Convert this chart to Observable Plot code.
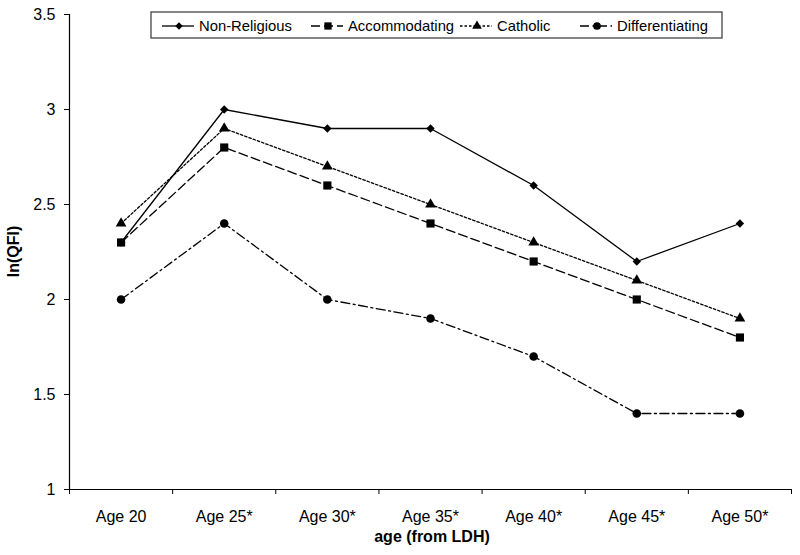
<!DOCTYPE html>
<html>
<head>
<meta charset="utf-8">
<script src="https://cdn.jsdelivr.net/npm/d3@7"></script>
<script src="https://cdn.jsdelivr.net/npm/@observablehq/plot@0.6"></script>
<style>
  html, body { margin: 0; padding: 0; background: #fff; }
  #chart { position: relative; width: 800px; height: 555px; }
  svg { font-family: Arial, "Liberation Sans", sans-serif; }
</style>
</head>
<body>
<div id="chart"></div>
<script>
const categories = ["Age 20", "Age 25*", "Age 30*", "Age 35*", "Age 40*", "Age 45*", "Age 50*"];
const seriesNames = ["Non-Religious", "Accommodating", "Catholic", "Differentiating"];
const nonReligious   = [2.3, 3.0, 2.9, 2.9, 2.6, 2.2, 2.4];
const accommodating  = [2.3, 2.8, 2.6, 2.4, 2.2, 2.0, 1.8];
const catholic       = [2.4, 2.9, 2.7, 2.5, 2.3, 2.1, 1.9];
const differentiating= [2.0, 2.4, 2.0, 1.9, 1.7, 1.4, 1.4];
const yTicks = [1, 1.5, 2, 2.5, 3, 3.5];
const xTitle = "age (from LDH)";
const yTitle = "ln(QFI)";

const styles = {
  "Non-Religious":   {dash: null,          symbol: "diamond2", r: 3.8},
  "Accommodating":   {dash: "9,4",         symbol: "square",   r: 4.6},
  "Catholic":        {dash: "2.5,2",       symbol: "triangle", r: 4.0},
  "Differentiating": {dash: "9,3.5,2,3.5", symbol: "circle",   r: 4.3}
};
const valuesBy = {
  "Non-Religious": nonReligious,
  "Accommodating": accommodating,
  "Catholic": catholic,
  "Differentiating": differentiating
};
const data = seriesNames.flatMap(s => valuesBy[s].map((v, i) => ({series: s, i, pos: i + 0.5, value: v})));

const marks = [];
for (const s of seriesNames) {
  const d = data.filter(r => r.series === s);
  const st = styles[s];
  marks.push(Plot.line(d, {x: "pos", y: "value", stroke: "#000", strokeWidth: 1.3, strokeDasharray: st.dash}));
  marks.push(Plot.dot(d, {x: "pos", y: "value", symbol: () => st.symbol, r: st.r, fill: "#000", stroke: "none"}));
}

const plot = Plot.plot({
  width: 800,
  height: 555,
  marginTop: 14,
  marginBottom: 66,
  marginLeft: 69,
  marginRight: 9,
  style: {fontFamily: "Arial, 'Liberation Sans', sans-serif", fontSize: "16px", color: "#000", background: "#fff"},
  x: {domain: [0, categories.length], label: null},
  y: {domain: [1, 3.5], label: null},
  symbol: {domain: ["diamond2", "square", "triangle", "circle"], range: ["diamond2", "square", "triangle", "circle"]},
  marks: [
    Plot.ruleX([0], {stroke: "#000", strokeWidth: 1.2}),
    Plot.ruleY([1], {stroke: "#000", strokeWidth: 1.2}),
    Plot.axisY({ticks: yTicks, tickSize: 5, tickPadding: 9, tickFormat: d => String(d), fontSize: 16, label: null, stroke: "#000"}),
    Plot.axisX({ticks: d3.range(0, categories.length + 1), tickSize: 5, tickFormat: () => "", label: null, stroke: "#000"}),
    Plot.axisX({ticks: categories.map((c, i) => i + 0.5), tickSize: 0, tickPadding: 21, tickFormat: d => categories[Math.round(d - 0.5)], fontSize: 16, label: null}),
    ...marks
  ]
});

const container = document.getElementById("chart");
container.appendChild(plot);

const svg = d3.select(plot);
const xs = plot.scale("x");
const ys = plot.scale("y");
const x0 = xs.apply(0), x1 = xs.apply(categories.length);

// axis titles
svg.append("text")
  .attr("x", (x0 + x1) / 2 + 2)
  .attr("y", 542)
  .attr("text-anchor", "middle")
  .attr("font-weight", "bold")
  .attr("font-size", 16)
  .attr("fill", "#000")
  .text(xTitle);
svg.append("text")
  .attr("transform", `translate(19,${ys.apply(2.25)}) rotate(-90)`)
  .attr("text-anchor", "middle")
  .attr("font-weight", "bold")
  .attr("font-size", 16)
  .attr("fill", "#000")
  .text(yTitle);

// legend
const lg = svg.append("g").attr("text-anchor", "start");
lg.append("rect").attr("x", 151).attr("y", 12).attr("width", 571).attr("height", 26)
  .attr("fill", "#fff").attr("stroke", "#444").attr("stroke-width", 1.3);
const itemX = [162, 311, 460, 580];
const legendY = 26;
const symMap = {diamond2: d3.symbolDiamond2, square: d3.symbolSquare, triangle: d3.symbolTriangle, circle: d3.symbolCircle};
seriesNames.forEach((s, k) => {
  const st = styles[s];
  const lx = itemX[k];
  const ln = lg.append("line").attr("x1", lx).attr("x2", lx + 32).attr("y1", legendY).attr("y2", legendY)
    .attr("stroke", "#000").attr("stroke-width", 1.3);
  if (st.dash) ln.attr("stroke-dasharray", st.dash);
  lg.append("path").attr("d", d3.symbol(symMap[st.symbol], Math.PI * st.r * st.r * 0.8)())
    .attr("transform", `translate(${lx + 17},${legendY})`).attr("fill", "#000");
  lg.append("text").attr("x", lx + 37).attr("y", legendY).attr("dy", "0.36em")
    .attr("text-anchor", "start")
    .attr("font-size", 14.8).attr("fill", "#000").text(s);
});
</script>
</body>
</html>
